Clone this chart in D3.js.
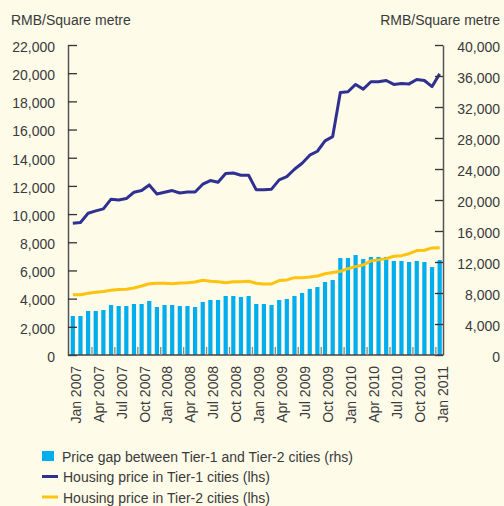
<!DOCTYPE html>
<html>
<head>
<meta charset="utf-8">
<script src="https://cdn.jsdelivr.net/npm/d3@7"></script>
<style>
  body { margin: 0; background: #fefbe9; }
  text { font-family: "Liberation Sans", Arial, Helvetica, sans-serif; fill: #3a3a3a; }
</style>
</head>
<body>
<div class="chart"></div>
<script>
// monthly, Jan 2007 .. Jan 2011
var months = []
for (var yr = 2007; yr <= 2011; yr++) {
    for (var m = 0; m < 12; m++) {
        if (yr === 2011 && m > 0) break;
        months.push(new Date(yr, m, 1))
    }
}

// Price gap between Tier-1 and Tier-2 cities (rhs)
var priceGap = [5030, 5030, 5680, 5680, 5810, 6450, 6320, 6320, 6580, 6580, 6970, 6190,
    6450, 6450, 6320, 6320, 6190, 6840, 7100, 7100, 7610, 7610, 7480, 7610,
    6580, 6580, 6450, 7100, 7230, 7610, 8000, 8520, 8770, 9420, 9680, 12520,
    12520, 12900, 12390, 12650, 12650, 12650, 12130, 12130, 12000, 12130, 12000, 11350,
    12260]

// Housing price in Tier-1 cities (lhs)
var tier1 = [9350, 9400, 10060, 10230, 10370, 11060, 11000, 11100, 11550, 11670, 12070, 11430,
    11550, 11670, 11500, 11570, 11570, 12120, 12380, 12260, 12880, 12920, 12760, 12760,
    11720, 11720, 11770, 12430, 12660, 13180, 13610, 14180, 14460, 15200, 15500, 18630,
    18680, 19200, 18870, 19390, 19390, 19480, 19200, 19270, 19240, 19550, 19480, 19050,
    19950]

// Housing price in Tier-2 cities (lhs)
var tier2 = [4280, 4280, 4380, 4450, 4500, 4590, 4640, 4660, 4760, 4900, 5060, 5090,
    5090, 5060, 5110, 5130, 5180, 5300, 5230, 5200, 5130, 5200, 5200, 5230,
    5090, 5040, 5040, 5280, 5330, 5490, 5490, 5530, 5610, 5770, 5850, 5940,
    6130, 6270, 6390, 6680, 6750, 6840, 7010, 7050, 7190, 7410, 7430, 7600,
    7620]

var leftTicks = [0, 2000, 4000, 6000, 8000, 10000, 12000, 14000, 16000, 18000, 20000, 22000]
var rightTicks = [0, 4000, 8000, 12000, 16000, 20000, 24000, 28000, 32000, 36000, 40000]

var legendItems = [
    { label: "Price gap between Tier-1 and Tier-2 cities (rhs)", type: "bar", color: "#00aeef" },
    { label: "Housing price in Tier-1 cities (lhs)", type: "line", color: "#2e3192" },
    { label: "Housing price in Tier-2 cities (lhs)", type: "line", color: "#ffc20e" }
]

var fmtMonth = d3.timeFormat("%b %Y")

var svg = d3.select(".chart")
    .append("svg")
    .attr("width", 504)
    .attr("height", 506)

svg.append("rect")
    .attr("width", 504)
    .attr("height", 506)
    .attr("fill", "#fefbe9")

var x = d3.scaleBand()
    .domain(d3.range(months.length))
    .range([69, 443.5])
    .paddingInner(0.45)
    .paddingOuter(0.225)

var yLeft = d3.scaleLinear().domain([0, 22000]).range([355, 45])
var yRight = d3.scaleLinear().domain([0, 40000]).range([355, 45])

function cx(i) { return x(i) + x.bandwidth() / 2 }

// bars
svg.selectAll(".gapBar")
    .data(priceGap)
    .enter().append("rect")
    .attr("class", "gapBar")
    .attr("x", function(d, i) { return x(i) })
    .attr("width", x.bandwidth())
    .attr("y", function(d) { return yRight(d) })
    .attr("height", function(d) { return 355 - yRight(d) })
    .attr("fill", "#00aeef")

// lines
var lineLeft = d3.line()
    .x(function(d, i) { return cx(i) })
    .y(function(d) { return yLeft(d) })

svg.append("path")
    .datum(tier2)
    .attr("d", lineLeft)
    .attr("fill", "none")
    .attr("stroke", "#ffc20e")
    .attr("stroke-width", 3)
    .attr("stroke-linejoin", "round")

svg.append("path")
    .datum(tier1)
    .attr("d", lineLeft)
    .attr("fill", "none")
    .attr("stroke", "#2e3192")
    .attr("stroke-width", 3)
    .attr("stroke-linejoin", "round")

// left axis
var leftAxis = svg.append("g")
    .attr("transform", "translate(68,0)")
    .call(d3.axisLeft(yLeft)
        .tickValues(leftTicks)
        .tickFormat(d3.format(","))
        .tickSizeInner(-9)
        .tickSizeOuter(0)
        .tickPadding(13))
leftAxis.select(".domain").attr("stroke", "#555").attr("stroke-width", 1.5)
leftAxis.selectAll(".tick line").attr("stroke", "#333").attr("stroke-width", 1.3)
leftAxis.selectAll(".tick text")
    .style("font-size", "14px")
    .attr("fill", "#3a3a3a")
    .attr("dy", "0.45em")

// right axis
var rightAxis = svg.append("g")
    .attr("transform", "translate(443,0)")
    .call(d3.axisRight(yRight)
        .tickValues(rightTicks)
        .tickFormat(d3.format(","))
        .tickSizeInner(-8)
        .tickSizeOuter(0))
rightAxis.select(".domain").attr("stroke", "#555").attr("stroke-width", 1.5)
rightAxis.selectAll(".tick line").attr("stroke", "#333").attr("stroke-width", 1.3)
rightAxis.selectAll(".tick text")
    .style("font-size", "14px")
    .attr("fill", "#3a3a3a")
    .attr("text-anchor", "end")
    .attr("x", 57)
    .attr("dy", "0.45em")

// x baseline + quarter ticks
svg.append("line")
    .attr("x1", 68).attr("x2", 443)
    .attr("y1", 355).attr("y2", 355)
    .attr("stroke", "#444")
    .attr("stroke-width", 1.5)

var quarterIdx = d3.range(0, months.length, 3)

svg.selectAll(".qTick")
    .data(quarterIdx.filter(function(i) { return i > 0 }))
    .enter().append("line")
    .attr("class", "qTick")
    .attr("x1", function(i) { return cx(i) - x.step() / 2 })
    .attr("x2", function(i) { return cx(i) - x.step() / 2 })
    .attr("y1", 355)
    .attr("y2", 347)
    .attr("stroke", "#888")
    .attr("stroke-width", 1.3)

svg.selectAll(".xLabel")
    .data(quarterIdx)
    .enter().append("text")
    .attr("class", "xLabel")
    .attr("transform", function(i) {
        return "translate(" + (cx(i) + 3) + ",366) rotate(-90)"
    })
    .attr("text-anchor", "end")
    .attr("dy", "0.35em")
    .style("font-size", "14px")
    .text(function(i) { return fmtMonth(months[i]) })

// axis titles
svg.append("text")
    .attr("x", 11)
    .attr("y", 25)
    .style("font-size", "14px")
    .text("RMB/Square metre")

svg.append("text")
    .attr("x", 500)
    .attr("y", 25)
    .attr("text-anchor", "end")
    .style("font-size", "14px")
    .text("RMB/Square metre")

// legend
var legendItem = svg.selectAll(".legendItem")
    .data(legendItems)
    .enter().append("g")
    .attr("class", "legendItem")
    .attr("transform", function(d, i) {
        return "translate(42," + (456 + i * 20.5) + ")"
    })

legendItem.filter(function(d) { return d.type === "bar" })
    .append("rect")
    .attr("x", 0)
    .attr("y", -5)
    .attr("width", 12)
    .attr("height", 10)
    .attr("fill", function(d) { return d.color })

legendItem.filter(function(d) { return d.type === "line" })
    .append("line")
    .attr("x1", 0).attr("x2", 16)
    .attr("y1", 0).attr("y2", 0)
    .attr("stroke", function(d) { return d.color })
    .attr("stroke-width", 3)

legendItem.append("text")
    .attr("x", function(d) { return d.type === "bar" ? 20 : 21 })
    .attr("y", 5.5)
    .style("font-size", "14px")
    .text(function(d) { return d.label })
</script>
</body>
</html>
